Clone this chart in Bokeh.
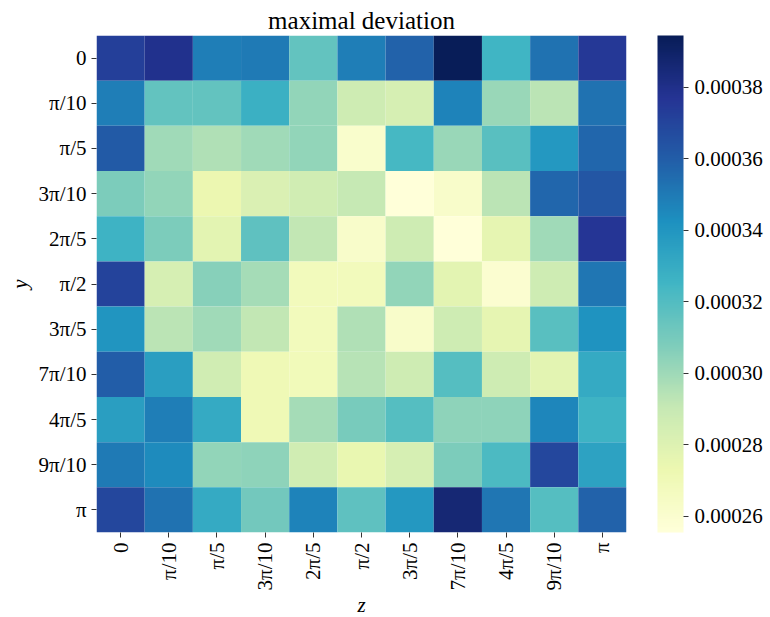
import numpy as np
from bokeh.plotting import figure
from bokeh.models import (ColumnDataSource, LinearColorMapper, ColorBar, FixedTicker,
                          PrintfTickFormatter, FactorRange)
from bokeh.embed import file_html
from bokeh.resources import INLINE

z_labels = ["0", "π/10", "π/5", "3π/10", "2π/5", "π/2", "3π/5", "7π/10", "4π/5", "9π/10", "π"]
y_labels = ["0", "π/10", "π/5", "3π/10", "2π/5", "π/2", "3π/5", "7π/10", "4π/5", "9π/10", "π"]

# maximal deviation values, rows = y (top to bottom), columns = z (left to right)
row_0 = [3.723e-4, 3.792e-4, 3.486e-4, 3.500e-4, 3.153e-4, 3.486e-4, 3.584e-4, 3.945e-4, 3.250e-4, 3.528e-4, 3.750e-4]
row_1 = [3.486e-4, 3.153e-4, 3.153e-4, 3.278e-4, 3.028e-4, 2.875e-4, 2.833e-4, 3.472e-4, 3.014e-4, 2.930e-4, 3.528e-4]
row_2 = [3.611e-4, 3.000e-4, 2.958e-4, 3.000e-4, 3.028e-4, 2.611e-4, 3.236e-4, 3.014e-4, 3.181e-4, 3.389e-4, 3.570e-4]
row_3 = [3.083e-4, 3.028e-4, 2.736e-4, 2.819e-4, 2.861e-4, 2.903e-4, 2.560e-4, 2.625e-4, 2.930e-4, 3.570e-4, 3.625e-4]
row_4 = [3.264e-4, 3.083e-4, 2.777e-4, 3.167e-4, 2.916e-4, 2.625e-4, 2.875e-4, 2.555e-4, 2.764e-4, 3.000e-4, 3.764e-4]
row_5 = [3.709e-4, 2.833e-4, 3.055e-4, 2.986e-4, 2.680e-4, 2.680e-4, 3.028e-4, 2.777e-4, 2.597e-4, 2.875e-4, 3.514e-4]
row_6 = [3.403e-4, 2.930e-4, 3.000e-4, 2.916e-4, 2.680e-4, 2.958e-4, 2.625e-4, 2.875e-4, 2.764e-4, 3.181e-4, 3.417e-4]
row_7 = [3.598e-4, 3.361e-4, 2.861e-4, 2.708e-4, 2.694e-4, 2.944e-4, 2.875e-4, 3.194e-4, 2.875e-4, 2.777e-4, 3.306e-4]
row_8 = [3.361e-4, 3.486e-4, 3.306e-4, 2.708e-4, 2.986e-4, 3.097e-4, 3.194e-4, 3.042e-4, 3.042e-4, 3.459e-4, 3.264e-4]
row_9 = [3.500e-4, 3.445e-4, 3.028e-4, 3.042e-4, 2.861e-4, 2.750e-4, 2.833e-4, 3.083e-4, 3.222e-4, 3.695e-4, 3.347e-4]
row_10 = [3.695e-4, 3.528e-4, 3.306e-4, 3.111e-4, 3.472e-4, 3.167e-4, 3.389e-4, 3.862e-4, 3.514e-4, 3.194e-4, 3.584e-4]
rows = [row_0, row_1, row_2, row_3, row_4, row_5, row_6, row_7, row_8, row_9, row_10]

cbar_ticks = [0.00026, 0.00028, 0.00030, 0.00032, 0.00034, 0.00036, 0.00038]

# YlGnBu colormap (continuous, from the 9 anchor colours)
anchors = ["#ffffd9", "#edf8b1", "#c7e9b4", "#7fcdbb", "#41b6c4",
           "#1d91c0", "#225ea8", "#253494", "#081d58"]
anc = np.array([[int(h[i:i + 2], 16) for i in (1, 3, 5)] for h in anchors], dtype=float)
pos = np.linspace(0, 1, len(anchors))
tt = np.linspace(0, 1, 256)
palette = ["#%02x%02x%02x" % tuple(int(round(np.interp(t, pos, anc[:, k]))) for k in range(3)) for t in tt]

xs, ys, vs = [], [], []
for yi, row in enumerate(rows):
    for zi, v in enumerate(row):
        xs.append(z_labels[zi])
        ys.append(y_labels[yi])
        vs.append(v)
source = ColumnDataSource(dict(z=xs, y=ys, v=vs))

vmin = min(vs)
vmax = max(vs)
mapper = LinearColorMapper(palette=palette, low=vmin, high=vmax)

FONT = "Liberation Serif"

p = figure(x_range=FactorRange(*z_labels), y_range=FactorRange(*list(reversed(y_labels))),
           frame_width=530, frame_height=497,
           min_border_left=96, min_border_top=35, min_border_bottom=0, min_border_right=144,
           output_backend="svg", toolbar_location=None,
           title="maximal deviation", x_axis_label="z", y_axis_label="y")
p.rect(x="z", y="y", width=1, height=1, source=source,
       fill_color={"field": "v", "transform": mapper}, line_color=None)

p.title.text_font = FONT
p.title.text_font_size = "25px"
p.title.text_font_style = "normal"
p.title.align = "center"
p.title.vertical_align = "top"
p.title.text_color = "black"
p.title.standoff = 0
p.title.offset = 0

p.outline_line_color = None
p.grid.grid_line_color = None
p.background_fill_color = "white"
p.border_fill_color = "white"

for ax in (p.xaxis[0], p.yaxis[0]):
    ax.axis_line_color = None
    ax.major_tick_in = 0
    ax.major_tick_out = 5
    ax.major_tick_line_color = "#333333"
    ax.major_label_text_font = FONT
    ax.major_label_text_font_size = "21px"
    ax.major_label_text_color = "black"
    ax.axis_label_text_font = FONT
    ax.axis_label_text_font_size = "21px"
    ax.axis_label_text_font_style = "italic"
    ax.axis_label_text_color = "black"
    ax.major_label_standoff = 5
    ax.group_text_font_size = "0px"

p.xaxis.axis_label_standoff = 0
p.yaxis.axis_label_standoff = 4
p.xaxis.major_label_orientation = np.pi / 2

cb = ColorBar(color_mapper=mapper, ticker=FixedTicker(ticks=cbar_ticks),
              formatter=PrintfTickFormatter(format="%.5f"),
              width=26, height=497, margin=0, padding=0, location=(561, 0),
              major_label_text_font=FONT, major_label_text_font_size="21px",
              major_label_text_color="black",
              major_tick_in=0, major_tick_out=5, major_tick_line_color="#333333",
              minor_tick_line_color=None, bar_line_color=None,
              label_standoff=6, background_fill_color=None, border_line_color=None)
p.add_layout(cb)

open("out.html", "w").write(file_html(p, INLINE))
